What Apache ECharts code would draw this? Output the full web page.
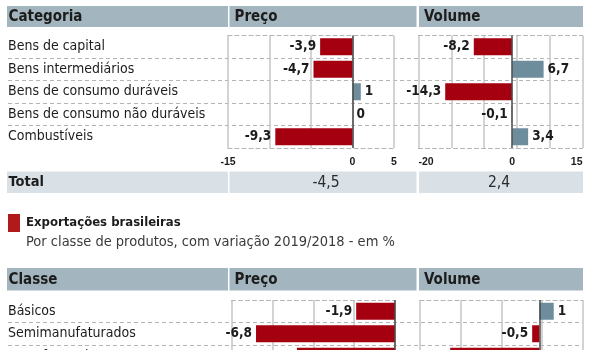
<!DOCTYPE html>
<html>
<head>
<meta charset="utf-8">
<script src="https://cdn.jsdelivr.net/npm/echarts@6/dist/echarts.min.js"></script>
<style>
  html, body { margin: 0; padding: 0; background: #fff; }
  #chart { width: 593px; height: 350px; }
</style>
</head>
<body>
<div id="chart"></div>
<script>
// ---- data: variation by product category (upper table) ----
const categoryHeaders = ['Categoria', 'Preço', 'Volume'];
const categoryRows = ['Bens de capital', 'Bens intermediários', 'Bens de consumo duráveis',
  'Bens de consumo não duráveis', 'Combustíveis'];
const categoryPrice = [-3.9, -4.7, 1, 0, -9.3];
const categoryVolume = [-8.2, 6.7, -14.3, -0.1, 3.4];
const categoryPriceTicks = [-15, 0, 5];
const categoryVolumeTicks = [-20, 0, 15];
const totalLabel = 'Total';
const categoryTotals = [-4.5, 2.4];

// ---- data: exports by product class (lower table) ----
const exportTitle = 'Exportações brasileiras';
const exportSubtitle = 'Por classe de produtos, com variação 2019/2018 - em %';
const classHeaders = ['Classe', 'Preço', 'Volume'];
const classRows = ['Básicos', 'Semimanufaturados', 'Manufaturados'];
const classPrice = [-1.9, -6.8, -4.8];
const classVolume = [1, -0.5, -6.2];

// ---- styling ----
const FONT = "'DejaVu Sans Condensed', 'Liberation Sans Narrow', sans-serif";
const TICK_FONT = "'Liberation Sans', 'DejaVu Sans', sans-serif";
const RED = '#a4000f';
const BLUE = '#6e8d9c';
const HEAD_BG = '#a3b5be';
const TOTAL_BG = '#d9e1e7';
const GRID_LINE = '#c6c6c6';
const DASH = '#b5b5b5';
const ZERO = '#4a4a4a';
const TEXT = '#1c1c1c';

const fmt = v => String(v).replace('.', ',');

const grids = [];
const xAxes = [];
const yAxes = [];
const series = [];

// Row labels with full-width dashed separators between rows
function labelColumn(box, rows) {
  const g = grids.length;
  grids.push(Object.assign({ outerBoundsMode: 'none', containLabel: false }, box));
  xAxes.push({ gridIndex: g, type: 'value', show: false, min: 0, max: 1 });
  yAxes.push({
    gridIndex: g, type: 'category', inverse: true, data: rows,
    axisLine: { show: false }, axisTick: { show: false },
    axisLabel: { inside: true, margin: 0, interval: 0, fontFamily: FONT, fontSize: 14, color: TEXT },
    splitLine: {
      show: true, interval: 0, showMinLine: false, showMaxLine: false,
      lineStyle: { color: DASH, type: [4, 3], width: 1 }
    }
  });
}

// One bar panel: value axis for the bars, plus an evenly divided axis for the vertical rules
function barPanel(box, rows, values, axis, divisions, ticks, showTicks, edgeAlign) {
  const g = grids.length;
  grids.push(Object.assign({ outerBoundsMode: 'none', containLabel: false }, box));
  const dataAxis = xAxes.length;
  const label = {
    show: showTicks, margin: 9, fontFamily: TICK_FONT, fontWeight: 'bold', fontSize: 10.5, color: TEXT,
    formatter: v => (ticks.indexOf(v) >= 0 ? fmt(v) : '')
  };
  if (edgeAlign) {
    label.alignMinLabel = 'left';
    label.alignMaxLabel = 'right';
  }
  const xa = {
    gridIndex: g, type: 'value', min: axis.min, max: axis.max,
    position: 'bottom',
    axisLine: { show: true, onZero: false, lineStyle: { color: DASH, type: [4, 3], width: 1 } },
    axisTick: { show: false },
    splitLine: { show: false },
    axisLabel: label
  };
  if (axis.step) xa.interval = axis.step;
  xAxes.push(xa);
  xAxes.push({
    gridIndex: g, type: 'value', min: 0, max: divisions, interval: 1, position: 'top',
    axisLine: { show: true, onZero: false, lineStyle: { color: DASH, type: [4, 3], width: 1 } },
    axisTick: { show: false }, axisLabel: { show: false },
    splitLine: { show: true, lineStyle: { color: GRID_LINE, width: 1.5 } }
  });
  const yIdx = yAxes.length;
  yAxes.push({
    gridIndex: g, type: 'category', inverse: true, data: rows,
    axisLine: { show: false }, axisTick: { show: false }, axisLabel: { show: false },
    splitLine: { show: false }
  });
  series.push({
    type: 'bar', xAxisIndex: dataAxis, yAxisIndex: yIdx, barWidth: 17, z: 5,
    data: values.map(v => ({
      value: v,
      itemStyle: { color: v < 0 ? RED : BLUE },
      label: { position: v < 0 ? 'left' : 'right' }
    })),
    label: {
      show: true, distance: 4, fontFamily: FONT, fontWeight: 'bold', fontSize: 13.5, color: TEXT,
      formatter: p => fmt(p.value)
    },
    markLine: {
      silent: true, symbol: 'none', z: 6,
      lineStyle: { color: ZERO, type: 'solid', width: 1.5 },
      label: { show: false },
      data: [{ xAxis: 0 }]
    }
  });
}

// upper table
labelColumn({ left: 8, top: 35.5, width: 575, height: 112.5 }, categoryRows);
barPanel({ left: 228, top: 35.5, width: 166, height: 112.5 }, categoryRows, categoryPrice,
  { min: -15, max: 5, step: 5 }, 4, categoryPriceTicks, true, false);
barPanel({ left: 418.5, top: 35.5, width: 164, height: 112.5 }, categoryRows, categoryVolume,
  { min: -20, max: 15, step: 5 }, 5, categoryVolumeTicks, true, true);

// lower table
labelColumn({ left: 8, top: 300, width: 575, height: 67.5 }, classRows);
barPanel({ left: 231.5, top: 300, width: 163.5, height: 67.5 }, classRows, classPrice,
  { min: -8, max: 0, step: 2 }, 4, [], false, false);
barPanel({ left: 420, top: 300, width: 162.5, height: 67.5 }, classRows, classVolume,
  { min: -8.3, max: 3 }, 4, [], false, false);

// ---- header bands, total row and title ----
const cells = [[7, 228], [229.5, 416.5], [419, 583]];
const graphics = [];

function band(y, h, fill, labels) {
  cells.forEach(c => {
    graphics.push({ type: 'rect', shape: { x: c[0], y: y, width: c[1] - c[0], height: h }, style: { fill: fill } });
  });
  labels.forEach((t, i) => {
    graphics.push({
      type: 'text',
      style: {
        text: t, x: cells[i][0] + (i === 0 ? 1.5 : 5), y: y + h / 2 + 0.5,
        font: 'bold 15px ' + FONT, fill: TEXT,
        align: 'left', verticalAlign: 'middle'
      }
    });
  });
}

band(6, 21, HEAD_BG, categoryHeaders);

// total row
cells.forEach(c => graphics.push({
  type: 'rect', shape: { x: c[0], y: 171.5, width: c[1] - c[0], height: 21.5 }, style: { fill: TOTAL_BG }
}));
graphics.push({
  type: 'text',
  style: { text: totalLabel, x: 8.5, y: 182.5, font: 'bold 14.5px ' + FONT, fill: TEXT, align: 'left', verticalAlign: 'middle' }
});
[326, 499].forEach((cx, i) => graphics.push({
  type: 'text',
  style: { text: fmt(categoryTotals[i]), x: cx, y: 182.5, font: '15.5px ' + FONT, fill: '#2a2a2a', align: 'center', verticalAlign: 'middle' }
}));

// title block
graphics.push({ type: 'rect', shape: { x: 8, y: 214, width: 12, height: 18 }, style: { fill: '#b01a1a' } });
graphics.push({
  type: 'text',
  style: { text: exportTitle, x: 26, y: 223, font: 'bold 13px ' + FONT, fill: TEXT, align: 'left', verticalAlign: 'middle' }
});
graphics.push({
  type: 'text',
  style: { text: exportSubtitle, x: 26, y: 242.5, font: '14.5px ' + FONT, fill: '#3a3a3a', align: 'left', verticalAlign: 'middle' }
});

band(268, 22.5, HEAD_BG, classHeaders);

const chart = echarts.init(document.getElementById('chart'), null, { renderer: 'canvas' });
chart.setOption({
  animation: false,
  backgroundColor: '#ffffff',
  grid: grids,
  xAxis: xAxes,
  yAxis: yAxes,
  series: series,
  graphic: { elements: graphics }
});
</script>
</body>
</html>
